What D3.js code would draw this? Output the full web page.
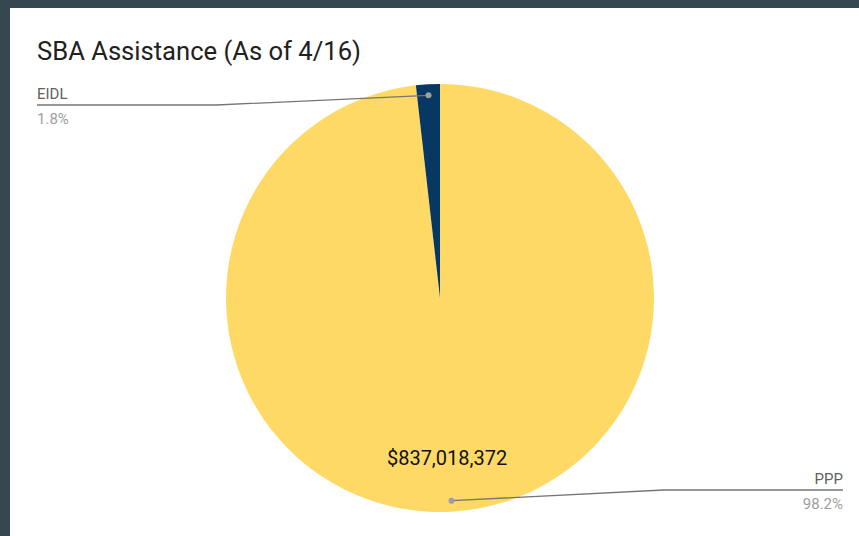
<html>
  <head>
    <script src="https://cdn.jsdelivr.net/npm/d3@7"></script>
    <style>
      body { margin: 0; background: #37474f; }
      text { font-family: Roboto, "Noto Sans", sans-serif; }
    </style>
  </head>
  <body>
    <svg id="chart" width="859" height="536"></svg>
    <script>
        // data
        var categories = ["PPP", "EIDL"];
        var values = [837018372, 15342000];
        var colors = ["#ffd966", "#073763"];
        var valueLabels = ["$837,018,372", ""];

        var svg = d3.select("#chart");

        // white card inside the dark frame
        svg.append("rect")
          .attr("x", 10).attr("y", 8)
          .attr("width", 849).attr("height", 528)
          .attr("fill", "#ffffff");

        svg.append("text")
          .attr("x", 37).attr("y", 60)
          .attr("font-size", 25.6)
          .attr("fill", "#212121")
          .text("SBA Assistance (As of 4/16)");

        var cx = 440, cy = 298, r = 214;
        var total = d3.sum(values);

        var pie = d3.pie().sort(null).value(function(d) { return d; });
        var arcs = pie(values);

        var arc = d3.arc().innerRadius(0).outerRadius(r);
        var dotArc = d3.arc().innerRadius(203).outerRadius(203);
        var textArc = d3.arc().innerRadius(160).outerRadius(160);

        var g = svg.append("g").attr("transform", "translate(" + cx + "," + cy + ")");

        g.selectAll("path.slice").data(arcs).enter().append("path")
          .attr("class", "slice")
          .attr("d", arc)
          .attr("fill", function(d, i) { return colors[i]; });

        g.selectAll("text.val").data(arcs).enter().append("text")
          .attr("class", "val")
          .attr("x", function(d) { return textArc.centroid(d)[0] - 2; })
          .attr("y", function(d) { return textArc.centroid(d)[1]; })
          .attr("dy", "0.35em")
          .attr("text-anchor", "middle")
          .attr("font-size", 20)
          .attr("fill", "#111")
          .text(function(d, i) { return valueLabels[i]; });

        // leader lines and side labels
        arcs.forEach(function(d, i) {
          var p = dotArc.centroid(d);
          var px = cx + p[0], py = cy + p[1];
          var right = px > cx;
          var lineY = right ? 490 : 105;
          var elbowX = right ? px + 212 : px - 212;
          var endX = right ? 843 : 37;
          svg.append("polyline")
            .attr("points", [[px, py], [elbowX, lineY], [endX, lineY]].join(" "))
            .attr("fill", "none")
            .attr("stroke", "#757575")
            .attr("stroke-width", 1.3);
          svg.append("circle")
            .attr("cx", px).attr("cy", py).attr("r", 3)
            .attr("fill", "#9e9e9e");
          svg.append("text")
            .attr("x", endX).attr("y", lineY - 6)
            .attr("text-anchor", right ? "end" : "start")
            .attr("font-size", 15)
            .attr("fill", "#616161")
            .text(categories[i]);
          svg.append("text")
            .attr("x", endX).attr("y", lineY + 19)
            .attr("text-anchor", right ? "end" : "start")
            .attr("font-size", 15)
            .attr("fill", "#9e9e9e")
            .text((d.value / total * 100).toFixed(1) + "%");
        });
    </script>
  </body>
</html>
